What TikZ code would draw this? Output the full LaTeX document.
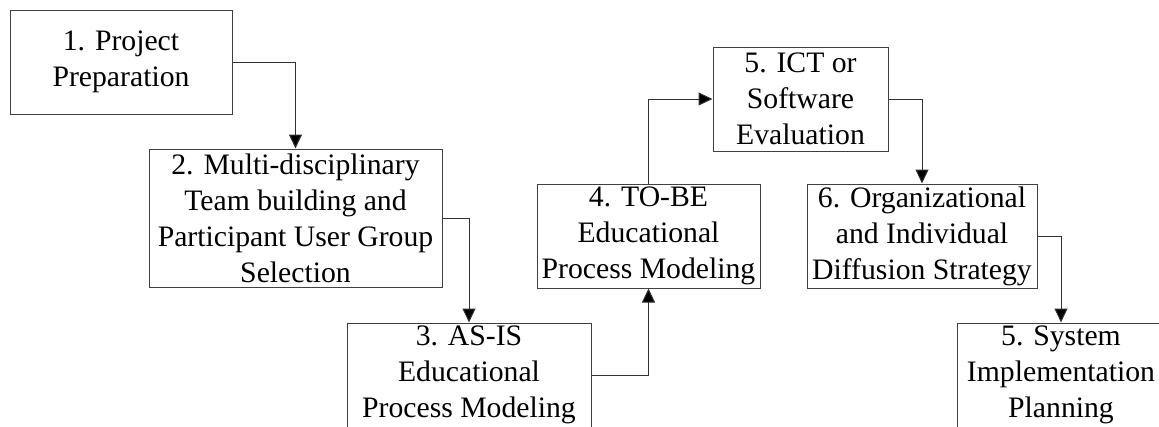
\documentclass[tikz,border=0pt]{standalone}
\usepackage{fontspec}
\setmainfont{Liberation Serif}
\usetikzlibrary{arrows.meta}
\definecolor{boxline}{RGB}{64,64,64}
\definecolor{conline}{RGB}{50,50,50}
\tikzset{
  stepbox/.style={draw=boxline, line width=1pt, rectangle, inner sep=0pt, align=center,
    font=\fontsize{29.7pt}{36pt}\selectfont},
  arr/.style={draw=conline, line width=1pt, -{Triangle[length=14pt,width=13pt,fill=black]}}
}
\begin{document}
\begin{tikzpicture}[x=1pt,y=-1pt]
\useasboundingbox (0,0) rectangle (1159,426);
\clip (0,0) rectangle (1159,426);
\fill[white] (0,0) rectangle (1159,426);
\node[stepbox, minimum width=222pt, minimum height=104pt] (b1) at (121,62) {1. Project\\Preparation};
\node[stepbox, minimum width=293pt, minimum height=138pt] (b2) at (295.5,218) {2. Multi-disciplinary\\Team building and\\Participant User Group\\Selection};
\node[stepbox, minimum width=244pt, minimum height=104pt] (b3) at (469,375) {3. AS-IS\\Educational\\Process Modeling};
\node[stepbox, minimum width=223pt, minimum height=104pt] (b4) at (648.5,236) {4. TO-BE\\Educational\\Process Modeling};
\node[stepbox, minimum width=175pt, minimum height=104pt] (b5) at (800.5,99) {5. ICT or\\Software\\Evaluation};
\node[stepbox, minimum width=230pt, minimum height=104pt] (b6) at (922,236) {6. Organizational\\and Individual\\Diffusion Strategy};
\node[stepbox, minimum width=208pt, minimum height=104pt] (b7) at (1061,375) {5. System\\Implementation\\Planning};
\draw[arr] (b1.east) -| (b2.north);
\draw[arr] (b2.east) -| (b3.north);
\draw[arr] (b3.east) -| (b4.south);
\draw[arr] (b4.north) |- (b5.west);
\draw[arr] (b5.east) -| (b6.north);
\draw[arr] (b6.east) -| (b7.north);
\end{tikzpicture}
\end{document}
